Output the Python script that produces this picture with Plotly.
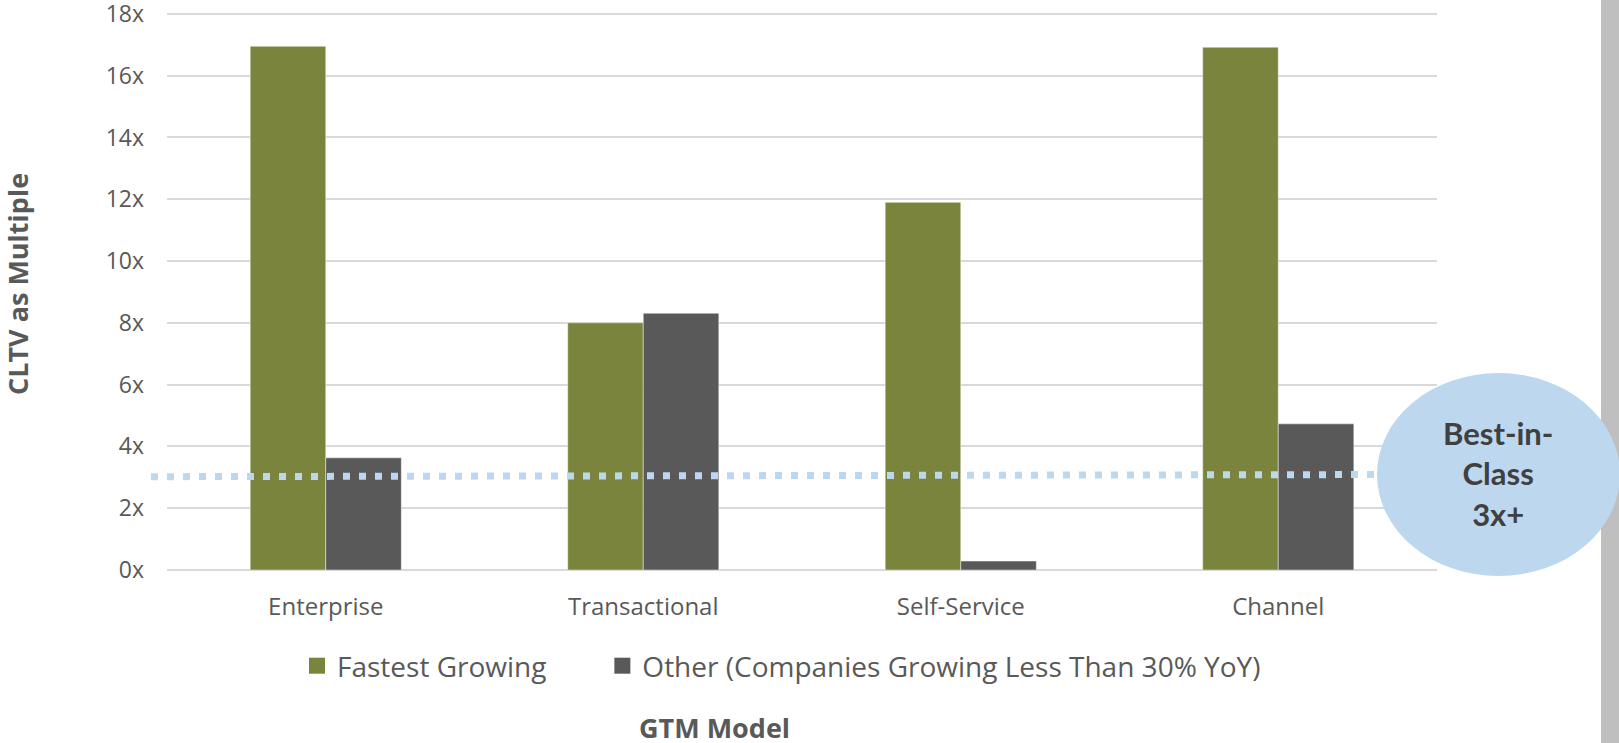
import plotly.graph_objects as go

# GTM model categories and CLTV multiples
categories = ["Enterprise", "Transactional", "Self-Service", "Channel"]
fastest_growing = [16.95, 8.0, 11.9, 16.92]
other_companies = [3.63, 8.31, 0.29, 4.73]
series_names = ["Fastest Growing", "Other (Companies Growing Less Than 30% YoY)"]

# best-in-class benchmark (start / end values of the dotted line)
benchmark_line = [3.02, 3.09]
benchmark_label = "Best-in-<br>Class<br>3x+"

y_ticks = list(range(0, 19, 2))
y_tick_labels = [f"{v}x" for v in y_ticks]

GREEN = "#7a843c"
GRAY = "#595959"
BLUE = "#bdd7ee"
TEXT = "#595959"
BASE_FONT = "Open Sans"

W, H = 1619, 743
L, R, T, B = 167, 182, 12, 173
plot_w = W - L - R
plot_h = H - T - B


def px_x(p):
    return (p - L) / plot_w


def px_y(p):
    return (H - B - p) / plot_h


fig = go.Figure()
fig.add_trace(go.Bar(
    x=categories, y=fastest_growing, name=series_names[0],
    marker=dict(color=GREEN, line=dict(color="rgba(255,255,255,0.45)", width=1)),
    showlegend=False,
))
fig.add_trace(go.Bar(
    x=categories, y=other_companies, name=series_names[1],
    marker=dict(color=GRAY, line=dict(color="rgba(255,255,255,0.45)", width=1)),
    showlegend=False,
))

# legend entries with larger square swatches; the first one is padded so the
# second entry sits further to the right
legend_pad = ["\u00a0" * 7, ""]
for name, color, pad in zip(series_names, [GREEN, GRAY], legend_pad):
    fig.add_trace(go.Scatter(
        x=[None], y=[None], mode="markers", name=name + pad,
        marker=dict(symbol="square", size=16, color=color),
        showlegend=True,
    ))

shapes = [
    # grey strip at the right edge
    dict(type="rect", xref="paper", yref="paper",
         x0=px_x(1601), x1=px_x(1640), y0=px_y(760), y1=px_y(-20),
         fillcolor="#bfbfbf", line=dict(width=0), layer="above"),
    # benchmark dotted line
    dict(type="line", xref="paper", yref="y",
         x0=px_x(151), x1=px_x(1385), y0=benchmark_line[0], y1=benchmark_line[1],
         line=dict(color=BLUE, width=7, dash="7px,9px"), layer="above"),
    # benchmark bubble
    dict(type="circle", xref="paper", yref="paper",
         x0=px_x(1377), x1=px_x(1620), y0=px_y(576), y1=px_y(373),
         fillcolor=BLUE, line=dict(width=0), layer="above"),
]

annotations = [
    dict(text=benchmark_label, xref="paper", yref="paper",
         x=px_x(1498), y=px_y(474), xanchor="center", yanchor="middle",
         showarrow=False, align="center",
         font=dict(family="Lato", size=31, color="#404040", weight="bold")),
    dict(text="<b>GTM Model</b>", xref="paper", yref="paper",
         x=px_x(714), y=px_y(727), xanchor="center", yanchor="middle",
         showarrow=False, borderpad=0,
         font=dict(family=BASE_FONT, size=27, color=TEXT)),
    dict(text="<b>CLTV as Multiple</b>", xref="paper", yref="paper",
         x=px_x(17), y=px_y(284), xanchor="center", yanchor="middle",
         textangle=-90, showarrow=False,
         font=dict(family=BASE_FONT, size=27, color=TEXT)),
]

fig.update_layout(
    width=W, height=H,
    margin=dict(l=L, r=R, t=T, b=B, autoexpand=False),
    paper_bgcolor="white", plot_bgcolor="white",
    barmode="group", bargap=0.524, bargroupgap=0,
    font=dict(family=BASE_FONT, color=TEXT),
    shapes=shapes, annotations=annotations,
    legend=dict(
        orientation="h", x=px_x(297), y=px_y(666),
        xanchor="left", yanchor="middle",
        font=dict(family=BASE_FONT, size=28, color=TEXT),
        bgcolor="rgba(0,0,0,0)",
    ),
    xaxis=dict(
        type="category", showgrid=False, zeroline=False, showline=False,
        ticks="", tickfont=dict(family=BASE_FONT, size=24, color=TEXT),
        ticklabelstandoff=20,
    ),
    yaxis=dict(
        range=[0, 18.06], tickvals=y_ticks, ticktext=y_tick_labels,
        showgrid=True, gridcolor="#d9d9d9", gridwidth=1.5,
        zeroline=True, zerolinecolor="#d9d9d9", zerolinewidth=1.5,
        showline=False, ticks="", ticklabeloverflow="allow",
        tickfont=dict(family=BASE_FONT, size=23, color=TEXT),
        ticklabelstandoff=22,
    ),
)

fig.write_html("out.html")
